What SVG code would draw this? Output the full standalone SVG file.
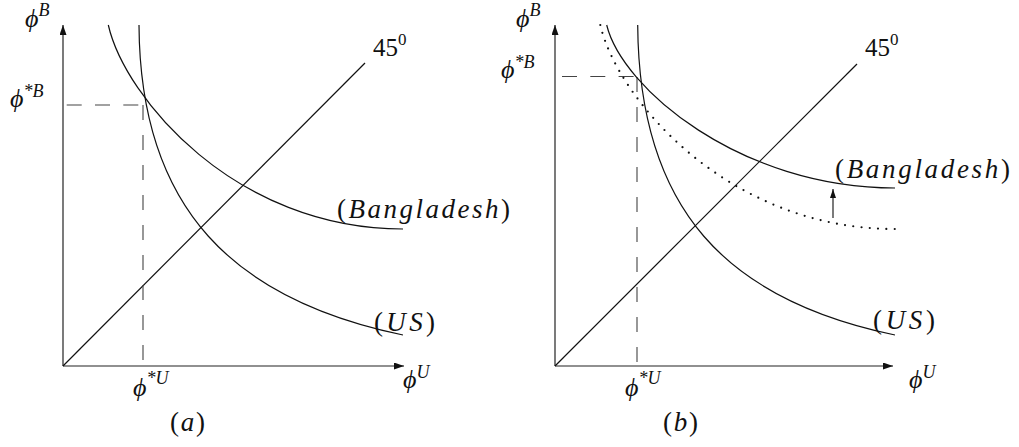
<svg xmlns="http://www.w3.org/2000/svg" width="1019" height="447" viewBox="0 0 1019 447">
<style>
.ax{stroke:#222;stroke-width:1.2;fill:none}
.cv{stroke:#111;stroke-width:1.2;fill:none}
.dh{stroke:#444;stroke-width:1.1;fill:none;stroke-dasharray:15 13.3}
.dv{stroke:#444;stroke-width:1.1;fill:none;stroke-dasharray:15 15}
.dot{stroke:#111;stroke-width:2.2;fill:none;stroke-dasharray:0 8.3;stroke-linecap:round}
text{font-family:"Liberation Serif","DejaVu Serif",serif;fill:#111}
.m{font-style:italic;font-size:27px}
.p{font-style:italic;font-size:26px}
.s{font-style:italic;font-size:18px}
.n{font-style:normal}
</style>
<defs>
<marker id="ah" viewBox="0 0 10 7" refX="10" refY="3.5" markerWidth="10" markerHeight="7" markerUnits="userSpaceOnUse" orient="auto">
<path d="M0,0 L10,3.5 L0,7 Z" fill="#111"/>
</marker>
<marker id="ah2" viewBox="0 0 9 6" refX="9" refY="3" markerWidth="9" markerHeight="6" markerUnits="userSpaceOnUse" orient="auto">
<path d="M0,0 L9,3 L0,6 Z" fill="#111"/>
</marker>
</defs>

<g id="panel-a">
<g id="a-axes">
<line class="ax" x1="63" y1="366" x2="63" y2="25" marker-end="url(#ah)"/>
<line class="ax" x1="63" y1="366" x2="404" y2="366" marker-end="url(#ah)"/>
<line class="cv" x1="63" y1="366" x2="365" y2="63"/>
</g>
<g id="a-dashed">
<line class="dh" x1="66.7" y1="105" x2="144" y2="105"/>
<line class="dv" x1="143" y1="105" x2="143" y2="366"/>
</g>
<g id="a-us"><path class="cv" d="M139,25 C140,210 235,300 403,335"/></g>
<g id="a-bangladesh"><path class="cv" d="M108.3,25 C125,98 235,229 403,229"/></g>
<g id="a-labels">
<text class="p" x="25" y="27">ϕ<tspan class="s" dy="-11">B</tspan></text>
<text class="p" x="10" y="107">ϕ<tspan class="s" dy="-10">*B</tspan></text>
<text class="p" x="133" y="396">ϕ<tspan class="s" dy="-12">*U</tspan></text>
<text class="p" x="403" y="388">ϕ<tspan class="s" dy="-10">U</tspan></text>
<text x="373" y="56" font-size="25">45<tspan font-size="17" dy="-11">0</tspan></text>
<text class="m" x="337" y="218" textLength="173" lengthAdjust="spacing"><tspan class="n">(</tspan>Bangladesh<tspan class="n">)</tspan></text>
<text class="m" x="374" y="331" textLength="61" lengthAdjust="spacing"><tspan class="n">(</tspan>US<tspan class="n">)</tspan></text>
<text class="m" x="170" y="431" textLength="35" lengthAdjust="spacing"><tspan class="n">(</tspan>a<tspan class="n">)</tspan></text>
</g>
</g>

<g id="panel-b">
<g id="b-axes">
<line class="ax" x1="555" y1="366" x2="555" y2="25" marker-end="url(#ah)"/>
<line class="ax" x1="555" y1="366" x2="893" y2="366" marker-end="url(#ah)"/>
<line class="cv" x1="555" y1="366" x2="857" y2="64"/>
</g>
<g id="b-dashed">
<line class="dh" x1="562" y1="76.5" x2="638" y2="76.5"/>
<line class="dv" x1="637" y1="77" x2="637" y2="366"/>
</g>
<g id="b-us"><path class="cv" d="M637.7,25 C639,210 727,300 895,335"/></g>
<g id="b-bangladesh-new"><path class="cv" d="M606.7,25 C622,88 740,188 895,188"/></g>
<g id="b-bangladesh-old"><path class="dot" d="M600.3,25 C617,98 727,229 895,229"/></g>
<g id="b-labels">
<text class="p" x="516" y="27">ϕ<tspan class="s" dy="-11">B</tspan></text>
<text class="p" x="501" y="78">ϕ<tspan class="s" dy="-10">*B</tspan></text>
<text class="p" x="625" y="396">ϕ<tspan class="s" dy="-12">*U</tspan></text>
<text class="p" x="909" y="388">ϕ<tspan class="s" dy="-10">U</tspan></text>
<text x="865" y="56" font-size="25">45<tspan font-size="17" dy="-11">0</tspan></text>
<text class="m" x="835" y="178" textLength="175" lengthAdjust="spacing"><tspan class="n">(</tspan>Bangladesh<tspan class="n">)</tspan></text>
<text class="m" x="873" y="329" textLength="62" lengthAdjust="spacing"><tspan class="n">(</tspan>US<tspan class="n">)</tspan></text>
<text class="m" x="663" y="431" textLength="35" lengthAdjust="spacing"><tspan class="n">(</tspan>b<tspan class="n">)</tspan></text>
</g>
</g>

<g id="connectors">
<line class="ax" x1="833" y1="218" x2="833" y2="189" marker-end="url(#ah2)"/>
</g>
</svg>
